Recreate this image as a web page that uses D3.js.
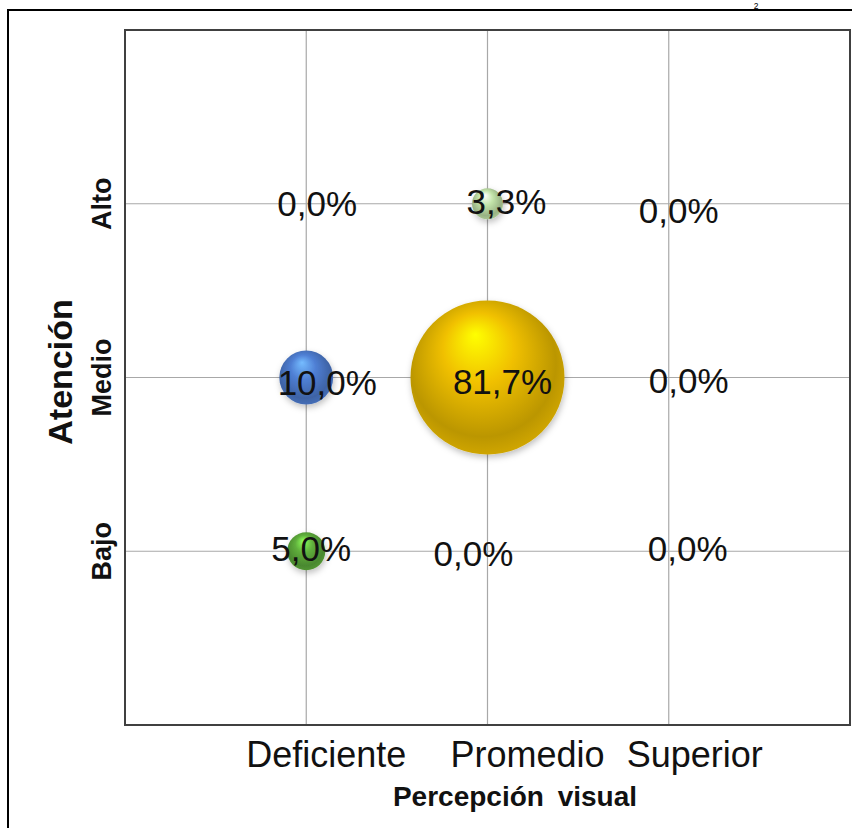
<!DOCTYPE html>
<html>
<head>
<meta charset="utf-8">
<script src="https://cdn.jsdelivr.net/npm/d3@7"></script>
<style>
  html, body { margin: 0; padding: 0; background: #ffffff; }
  svg { display: block; }
  text { font-family: "Liberation Sans", Arial, sans-serif; }
</style>
</head>
<body>
<svg id="chart" width="852" height="828"></svg>
<script>
// ---- data ----
const percepcionCategories = ["Deficiente", "Promedio", "Superior"];
const atencionCategories = ["Bajo", "Medio", "Alto"];
// values (%) per Atención row, in order of percepcionCategories
const valuesAlto  = [0.0, 3.3, 0.0];
const valuesMedio = [10.0, 81.7, 0.0];
const valuesBajo  = [5.0, 0.0, 0.0];
const xAxisTitle = "Percepción visual";
const yAxisTitle = "Atención";
const pageMark = "2";

// ---- styling constants ----
const rowColors = {
  Alto:  ["#c3e4aa", "#c3e4aa", "#c3e4aa"],
  Medio: ["#4f7fd4", "#f0c000", "#cccccc"],
  Bajo:  ["#5fae3c", "#cccccc", "#cccccc"]
};
// manual label offsets (px) as placed in the original
const labelOffsets = {
  Alto:  [[11, 12], [19, 10], [10, 19]],
  Medio: [[21, 17], [15, 16], [20, 15]],
  Bajo:  [[5, 10], [-14, 15], [19, 10]]
};
const tickLabelShift = [20, 40, 26];

const rows = { Alto: valuesAlto, Medio: valuesMedio, Bajo: valuesBajo };
const points = [];
atencionCategories.forEach(r => {
  rows[r].forEach((v, i) => {
    points.push({ x: percepcionCategories[i], xi: i, y: r, value: v,
                  color: rowColors[r][i], off: labelOffsets[r][i] });
  });
});

const svg = d3.select("#chart");
const plot = { left: 125, top: 30, right: 850, bottom: 725 };

const x = d3.scaleLinear().domain([0, 4]).range([plot.left, plot.right]);
const y = d3.scaleLinear().domain([0, 4]).range([plot.bottom, plot.top]);
const xPos = c => x(percepcionCategories.indexOf(c) + 1);
const yPos = c => y(atencionCategories.indexOf(c) + 1);
const r = d3.scaleSqrt().domain([0, d3.max(points, d => d.value)]).range([0, 77]);

// outer frame
svg.append("line").attr("x1", 7).attr("x2", 852).attr("y1", 10).attr("y2", 10)
  .attr("stroke", "#000").attr("stroke-width", 2.2);
svg.append("line").attr("x1", 8).attr("x2", 8).attr("y1", 9).attr("y2", 828)
  .attr("stroke", "#000").attr("stroke-width", 2);
svg.append("text").attr("x", 756).attr("y", 8.5).attr("text-anchor", "middle")
  .attr("font-size", 8.5).attr("fill", "#000").text(pageMark);

// grid
const grid = svg.append("g");
grid.selectAll("line.v").data(percepcionCategories).enter().append("line")
  .attr("x1", d => xPos(d)).attr("x2", d => xPos(d))
  .attr("y1", plot.top).attr("y2", plot.bottom)
  .attr("stroke", "#a8a8a8").attr("stroke-width", 1.2);
grid.selectAll("line.h").data(atencionCategories).enter().append("line")
  .attr("y1", d => yPos(d)).attr("y2", d => yPos(d))
  .attr("x1", plot.left).attr("x2", plot.right)
  .attr("stroke", "#a8a8a8").attr("stroke-width", 1.2);

// plot border
svg.append("rect").attr("x", plot.left).attr("y", plot.top)
  .attr("width", plot.right - plot.left).attr("height", plot.bottom - plot.top)
  .attr("fill", "none").attr("stroke", "#404040").attr("stroke-width", 2);

// gradients
const defs = svg.append("defs");
points.forEach((p, i) => {
  const c = d3.color(p.color);
  const g = defs.append("radialGradient").attr("id", "g" + i)
    .attr("cx", "48%").attr("cy", "45%").attr("r", "58%")
    .attr("fx", "42%").attr("fy", "22%");
  g.append("stop").attr("offset", "0%").attr("stop-color", d3.color(p.color).brighter(1.1));
  g.append("stop").attr("offset", "40%").attr("stop-color", c);
  g.append("stop").attr("offset", "82%").attr("stop-color", d3.color(p.color).darker(0.7));
  g.append("stop").attr("offset", "100%").attr("stop-color", d3.color(p.color).darker(0.35));
  p.grad = "url(#g" + i + ")";
});
const shadow = defs.append("filter").attr("id", "shadow")
  .attr("x", "-30%").attr("y", "-30%").attr("width", "160%").attr("height", "160%");
shadow.append("feDropShadow").attr("dx", 1).attr("dy", 3).attr("stdDeviation", 3)
  .attr("flood-color", "#000").attr("flood-opacity", 0.25);

// bubbles
svg.append("g").selectAll("circle").data(points.filter(d => d.value > 0)).enter()
  .append("circle")
  .attr("cx", d => xPos(d.x)).attr("cy", d => yPos(d.y))
  .attr("r", d => r(d.value))
  .attr("fill", d => d.grad)
  .attr("filter", "url(#shadow)");

// value labels
svg.append("g").selectAll("text").data(points).enter().append("text")
  .attr("x", d => xPos(d.x) + d.off[0])
  .attr("y", d => yPos(d.y) + d.off[1])
  .attr("text-anchor", "middle")
  .attr("font-size", 35)
  .attr("fill", "#111")
  .text(d => d.value.toFixed(1).replace(".", ",") + "%");

// x tick labels
svg.append("g").selectAll("text").data(percepcionCategories).enter().append("text")
  .attr("x", (d, i) => xPos(d) + tickLabelShift[i])
  .attr("y", 767)
  .attr("text-anchor", "middle")
  .attr("font-size", 36)
  .attr("fill", "#111")
  .text(d => d);

// y tick labels
svg.append("g").selectAll("text").data(atencionCategories).enter().append("text")
  .attr("transform", d => `translate(111,${yPos(d)}) rotate(-90)`)
  .attr("text-anchor", "middle")
  .attr("font-size", 27)
  .attr("font-weight", "bold")
  .attr("fill", "#111")
  .text(d => d);

// axis titles
svg.append("text").attr("x", 515).attr("y", 806)
  .attr("text-anchor", "middle").attr("font-size", 28).attr("font-weight", "bold")
  .attr("word-spacing", 6)
  .attr("fill", "#111").text(xAxisTitle);
svg.append("text").attr("transform", "translate(72,372) rotate(-90)")
  .attr("text-anchor", "middle").attr("font-size", 34).attr("font-weight", "bold")
  .attr("fill", "#111").text(yAxisTitle);
</script>
</body>
</html>
